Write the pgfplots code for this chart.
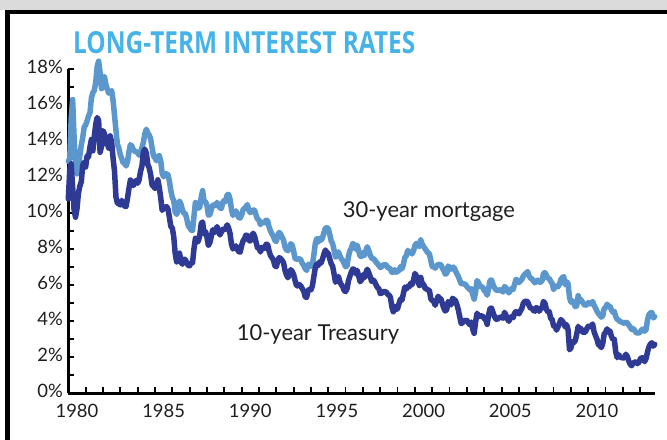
\documentclass[border=0pt]{standalone}
\usepackage{fontspec}
\setmainfont{Lato}
\newfontfamily\titlefont{Open Sans}
\usepackage{pgfplots}
\pgfplotsset{compat=1.18}
\usepackage{pgfplotstable}
\definecolor{mort}{HTML}{5B97CC}
\definecolor{tsy}{HTML}{2E3A93}
\definecolor{ttl}{HTML}{45B3E7}
\definecolor{txt}{HTML}{1E1E1E}

% monthly values, Jan 1980 - Nov 2013: m = 30-year mortgage, t = 10-year Treasury
\pgfplotstableread{
m t
12.88 10.80
13.04 12.41
15.28 12.75
16.32 11.47
14.26 10.18
12.71 9.78
12.19 10.25
12.56 11.10
13.20 11.51
13.79 11.75
14.21 12.68
14.79 12.84
14.90 12.57
15.13 13.19
15.40 13.12
15.58 13.68
16.40 14.10
16.70 13.47
16.83 14.28
17.29 14.94
18.16 15.32
18.45 15.15
17.83 13.39
16.92 13.72
17.40 14.59
17.60 14.43
17.16 13.86
16.89 13.87
16.68 13.62
16.70 14.30
16.82 13.95
16.27 13.06
15.43 12.34
14.61 10.91
13.83 10.55
13.62 10.54
13.25 10.46
13.04 10.72
12.80 10.51
12.78 10.40
12.63 10.38
12.87 10.85
13.42 11.38
13.81 11.85
13.73 11.65
13.54 11.54
13.44 11.69
13.42 11.83
13.37 11.67
13.23 11.84
13.39 12.32
13.65 12.63
13.94 13.41
14.42 13.56
14.67 13.36
14.47 12.72
14.35 12.52
14.13 12.16
13.64 11.57
13.18 11.50
13.08 11.38
12.92 11.51
13.17 11.86
13.20 11.43
12.91 10.85
12.22 10.16
12.03 10.31
12.19 10.33
12.19 10.37
12.14 10.24
11.78 9.78
11.26 9.26
10.88 9.19
10.71 8.70
10.08 7.78
9.94 7.30
10.14 7.71
10.68 7.80
10.51 7.30
10.20 7.17
10.01 7.45
9.98 7.43
9.70 7.25
9.32 7.11
9.20 7.08
9.08 7.25
9.04 7.25
9.83 8.02
10.60 8.61
10.54 8.40
10.28 8.45
10.33 8.76
10.89 9.42
11.26 9.52
10.65 8.86
10.65 8.99
10.43 8.67
9.89 8.21
9.93 8.37
10.20 8.72
10.46 9.09
10.46 8.92
10.43 9.06
10.60 9.26
10.48 8.98
10.30 8.80
10.27 8.96
10.61 9.11
10.73 9.09
10.65 9.17
11.03 9.36
11.05 9.18
10.77 8.86
10.20 8.28
9.88 8.02
9.99 8.11
10.13 8.19
9.95 8.01
9.77 7.87
9.74 7.84
9.90 8.21
10.20 8.47
10.27 8.59
10.37 8.79
10.48 8.76
10.16 8.48
10.04 8.47
10.10 8.75
10.18 8.89
10.18 8.72
9.90 8.39
9.67 8.08
9.64 8.09
9.37 7.85
9.50 8.11
9.49 8.04
9.47 8.07
9.62 8.28
9.58 8.27
9.24 7.90
9.01 7.65
8.86 7.53
8.71 7.42
8.50 7.09
8.43 7.03
8.76 7.34
8.94 7.54
8.85 7.48
8.67 7.39
8.51 7.26
8.13 6.84
7.98 6.59
7.92 6.42
8.09 6.59
8.31 6.87
8.22 6.77
7.91 6.60
7.47 6.26
7.46 5.98
7.46 5.97
7.47 6.04
7.42 5.96
7.21 5.81
7.11 5.68
6.92 5.36
6.83 5.33
7.16 5.72
7.17 5.77
7.06 5.75
7.15 5.97
7.68 6.48
8.32 6.97
8.60 7.18
8.40 7.10
8.61 7.30
8.51 7.24
8.64 7.46
8.93 7.74
9.17 7.96
9.20 7.81
9.15 7.78
8.83 7.47
8.46 7.20
8.32 7.06
7.96 6.63
7.57 6.17
7.61 6.28
7.86 6.49
7.64 6.20
7.48 6.04
7.38 5.93
7.20 5.71
7.03 5.65
7.08 5.81
7.62 6.27
7.93 6.51
8.07 6.74
8.32 6.91
8.25 6.87
8.00 6.64
8.23 6.83
7.92 6.53
7.62 6.20
7.60 6.30
7.82 6.58
7.65 6.42
7.90 6.69
8.14 6.89
7.94 6.71
7.69 6.49
7.50 6.22
7.48 6.30
7.43 6.21
7.29 6.03
7.21 5.88
7.10 5.81
6.99 5.54
7.04 5.57
7.13 5.65
7.14 5.64
7.14 5.65
7.00 5.50
6.95 5.46
6.92 5.34
6.72 4.81
6.71 4.53
6.87 4.83
6.72 4.65
6.79 4.72
6.81 5.00
7.04 5.23
6.92 5.18
7.15 5.54
7.55 5.90
7.63 5.79
7.94 5.94
7.82 5.92
7.85 6.11
7.74 6.03
7.91 6.28
8.21 6.66
8.33 6.52
8.24 6.26
8.15 5.99
8.52 6.44
8.29 6.10
8.15 6.05
8.03 5.83
7.91 5.80
7.80 5.74
7.75 5.72
7.38 5.24
7.03 5.16
7.05 5.10
6.95 4.89
7.08 5.14
7.15 5.39
7.16 5.28
7.13 5.24
6.95 4.97
6.82 4.73
6.62 4.57
6.66 4.65
7.07 5.09
7.00 5.04
6.89 4.91
7.01 5.28
6.99 5.21
6.81 5.16
6.65 4.93
6.49 4.65
6.29 4.26
6.09 3.87
6.11 3.94
6.07 4.05
6.05 4.03
5.92 4.05
5.84 3.90
5.75 3.81
5.81 3.96
5.48 3.57
5.23 3.33
5.63 3.98
6.26 4.45
6.15 4.27
5.95 4.29
5.93 4.30
5.88 4.27
5.71 4.15
5.64 4.08
5.45 3.83
5.83 4.35
6.27 4.72
6.29 4.73
6.06 4.50
5.87 4.28
5.75 4.13
5.72 4.10
5.73 4.19
5.75 4.23
5.71 4.22
5.63 4.17
5.93 4.50
5.86 4.34
5.72 4.14
5.58 4.00
5.70 4.18
5.82 4.26
5.77 4.20
6.07 4.46
6.33 4.54
6.27 4.47
6.15 4.42
6.25 4.57
6.32 4.72
6.51 4.99
6.60 5.11
6.68 5.11
6.76 5.09
6.52 4.88
6.40 4.72
6.36 4.73
6.24 4.60
6.14 4.56
6.22 4.76
6.29 4.72
6.16 4.56
6.18 4.69
6.26 4.75
6.66 5.10
6.70 5.00
6.57 4.67
6.38 4.52
6.38 4.53
6.21 4.15
6.10 4.10
5.76 3.74
5.92 3.74
5.97 3.51
5.92 3.68
6.04 3.88
6.32 4.10
6.43 4.01
6.48 3.89
6.04 3.69
6.20 3.81
6.09 3.53
5.33 2.42
5.06 2.52
5.13 2.87
5.00 2.82
4.81 2.93
4.86 3.29
5.42 3.72
5.22 3.56
5.19 3.59
5.06 3.40
4.95 3.39
4.88 3.40
4.93 3.59
5.03 3.73
4.99 3.69
4.97 3.73
5.10 3.85
4.89 3.42
4.74 3.20
4.56 3.01
4.43 2.70
4.35 2.65
4.23 2.54
4.30 2.76
4.71 3.29
4.76 3.39
4.95 3.58
4.84 3.41
4.84 3.46
4.64 3.17
4.51 3.00
4.55 3.00
4.27 2.30
4.11 1.98
4.07 2.15
3.99 2.01
3.96 1.98
3.92 1.97
3.89 1.97
3.95 2.17
3.91 2.05
3.80 1.80
3.68 1.62
3.55 1.53
3.60 1.68
3.50 1.72
3.38 1.75
3.35 1.65
3.35 1.72
3.41 1.91
3.53 1.98
3.57 1.96
3.45 1.76
3.54 1.93
4.07 2.30
4.37 2.58
4.46 2.74
4.49 2.81
4.19 2.62
4.26 2.72
}\rates

\begin{document}
\begin{tikzpicture}[x=1bp,y=1bp]
\useasboundingbox (0,0) rectangle (667,440);
\fill[fill=black!14] (0,430) rectangle (667,440);
\draw[line width=4.5bp, line join=miter] (7.5,0) -- (7.5,427.75) -- (667,427.75);
\node[anchor=base west, inner sep=0, text=ttl] at (73,386.7)
  {\resizebox{342bp}{22bp}{\titlefont\bfseries LONG-TERM INTEREST RATES}};
\begin{axis}[
  at={(68.3bp,46.7bp)}, anchor=south west,
  scale only axis, width=586.7bp, height=324bp,
  xmin=1980, xmax=2013.85, ymin=0, ymax=18,
  axis lines*=left,
  axis line style={line width=2.5bp, black},
  clip=false,
  xtick={1980,1985,...,2010},
  minor xtick={1981,1982,...,2013},
  ytick={0,2,...,18},
  minor ytick={1,3,...,17},
  tick align=inside,
  major tick length=6bp, minor tick length=6bp,
  every tick/.style={line width=1.8bp, black},
  tick label style={font=\fontsize{18.5}{20}\selectfont, text=txt},
  /pgf/number format/assume math mode=true,
  xticklabel style={/pgf/number format/1000 sep={}, xshift=8.67bp, yshift=-7bp},
  yticklabel={\pgfmathprintnumber{\tick}\%},
  yticklabel style={xshift=-2bp, yshift=2.5bp},
]
\addplot[mort, line width=5.5bp, line join=round, line cap=round]
  table[x expr=1980+\coordindex/12, y=m] {\rates};
\addplot[tsy, line width=5.5bp, line join=round, line cap=round]
  table[x expr=1980+\coordindex/12, y=t] {\rates};
\end{axis}
\node[anchor=base west, inner sep=0, text=txt, font=\fontsize{22}{26}\selectfont]
  at (342.7,222.7) {30-year mortgage};
\node[anchor=base west, inner sep=0, text=txt, font=\fontsize{22}{26}\selectfont]
  at (236.7,99.3) {10-year Treasury};
\end{tikzpicture}
\end{document}
